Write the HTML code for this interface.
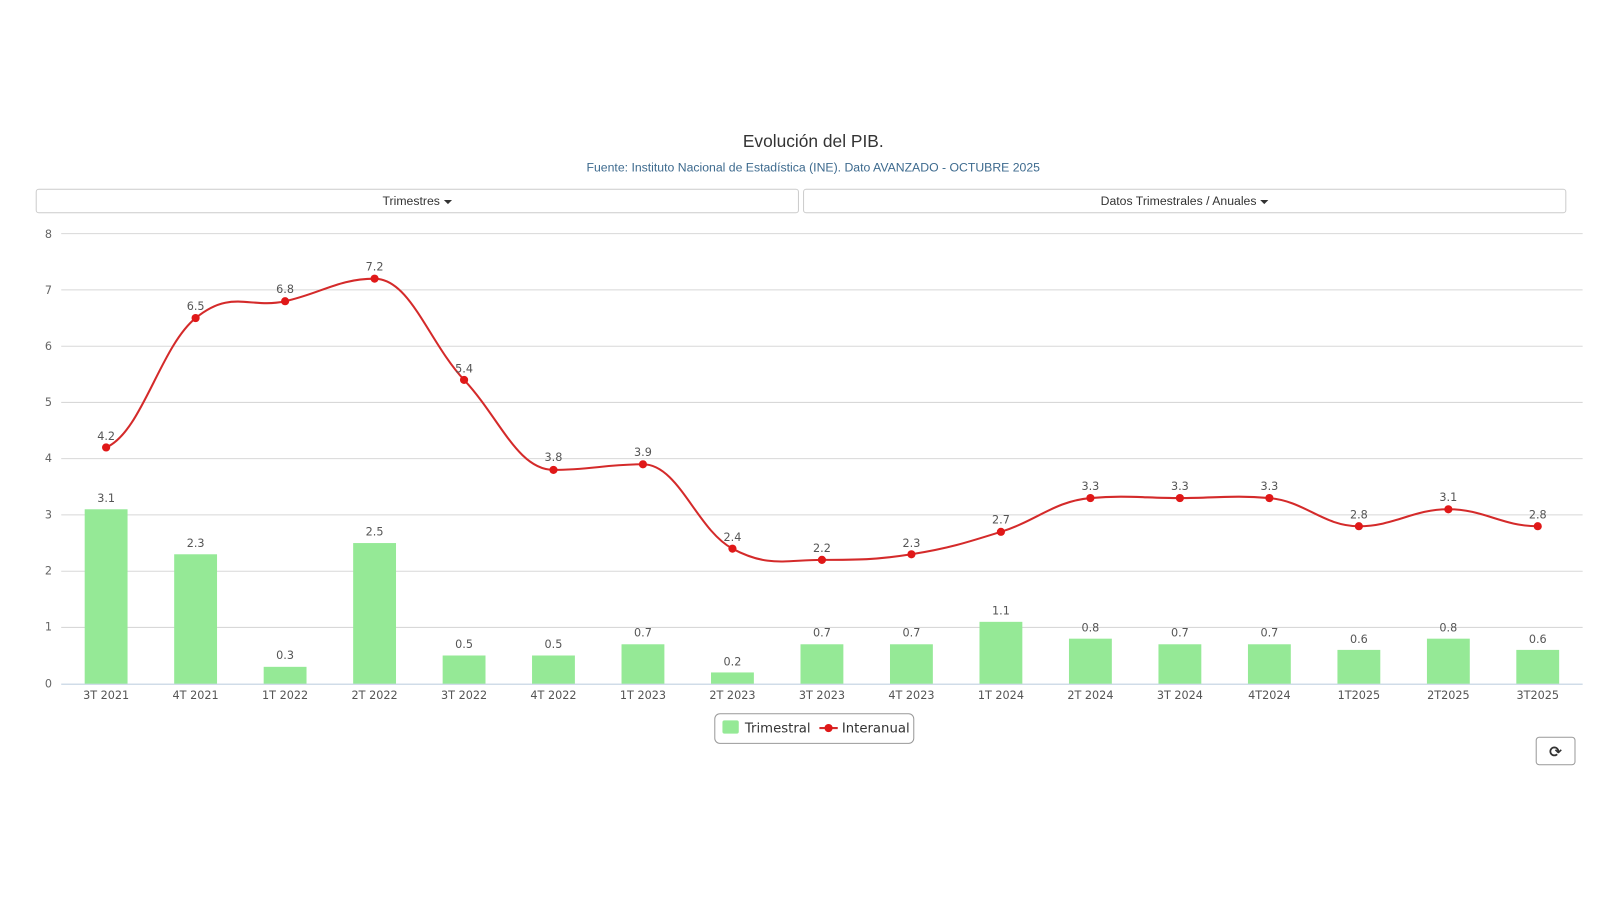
<!DOCTYPE html>
<html><head><meta charset="utf-8"><style>
html,body{margin:0;padding:0;background:#fff;width:1600px;height:900px;overflow:hidden;font-family:"Liberation Sans",sans-serif}
#wrap{position:absolute;left:0;top:0;width:1568px;height:882px;transform:scale(1.0204);transform-origin:0 0}
.btn{position:absolute;top:185px;height:22px;border:1px solid #ccc;border-radius:3px;font-size:12px;color:#333;text-align:center;line-height:22px;background:#fff}
.caret{display:inline-block;width:0;height:0;border-left:4px solid transparent;border-right:4px solid transparent;border-top:4px solid #333;vertical-align:middle;margin-left:4px}
</style></head><body><div id="wrap">
<div style="position:absolute;top:129px;left:0;width:1594px;text-align:center;font-size:17px;color:#333">Evolución del PIB.</div>
<div style="position:absolute;top:157px;left:0;width:1594px;text-align:center;font-size:12px;color:#3d6a8e">Fuente: Instituto Nacional de Estadística (INE). Dato AVANZADO - OCTUBRE 2025</div>
<div class="btn" style="left:35px;width:746px">Trimestres<span class="caret"></span></div>
<div class="btn" style="left:787px;width:746px">Datos Trimestrales / Anuales<span class="caret"></span></div>
<svg width="1600" height="900" style="position:absolute;left:0;top:0" font-family="DejaVu Sans, sans-serif">
<g stroke="#d8d8d8" stroke-width="1">
<line x1="60" x2="1551" y1="229" y2="229"/><line x1="60" x2="1551" y1="284.1" y2="284.1"/><line x1="60" x2="1551" y1="339.3" y2="339.3"/><line x1="60" x2="1551" y1="394.4" y2="394.4"/><line x1="60" x2="1551" y1="449.5" y2="449.5"/><line x1="60" x2="1551" y1="504.6" y2="504.6"/><line x1="60" x2="1551" y1="559.8" y2="559.8"/><line x1="60" x2="1551" y1="614.9" y2="614.9"/>
<line x1="60" x2="1551" y1="670.5" y2="670.5" stroke="#c0d0e0"/>
</g>
<g font-size="11" fill="#666" text-anchor="end">
<text x="51" y="233">8</text><text x="51" y="288">7</text><text x="51" y="343">6</text><text x="51" y="398">5</text><text x="51" y="453">4</text><text x="51" y="508">3</text><text x="51" y="563">2</text><text x="51" y="618">1</text><text x="51" y="674">0</text>
</g>
<g fill="#95e996">
<rect x="83" y="499.1" width="42" height="170.9"/><rect x="170.7" y="543.2" width="42" height="126.8"/><rect x="258.4" y="653.5" width="42" height="16.5"/><rect x="346.1" y="532.2" width="42" height="137.8"/><rect x="433.8" y="642.4" width="42" height="27.6"/><rect x="521.4" y="642.4" width="42" height="27.6"/><rect x="609.1" y="631.4" width="42" height="38.6"/><rect x="696.8" y="659" width="42" height="11"/><rect x="784.5" y="631.4" width="42" height="38.6"/><rect x="872.2" y="631.4" width="42" height="38.6"/><rect x="959.9" y="609.4" width="42" height="60.6"/><rect x="1047.6" y="625.9" width="42" height="44.1"/><rect x="1135.3" y="631.4" width="42" height="38.6"/><rect x="1223" y="631.4" width="42" height="38.6"/><rect x="1310.7" y="636.9" width="42" height="33.1"/><rect x="1398.4" y="625.9" width="42" height="44.1"/><rect x="1486" y="636.9" width="42" height="33.1"/>
</g>
<g font-size="11" fill="#555" text-anchor="middle">
<text x="104" y="492">3.1</text><text x="191.7" y="536">2.3</text><text x="279.4" y="646">0.3</text><text x="367.1" y="525">2.5</text><text x="454.8" y="635">0.5</text><text x="542.4" y="635">0.5</text><text x="630.1" y="624">0.7</text><text x="717.8" y="652">0.2</text><text x="805.5" y="624">0.7</text><text x="893.2" y="624">0.7</text><text x="980.9" y="602">1.1</text><text x="1068.6" y="619">0.8</text><text x="1156.3" y="624">0.7</text><text x="1244" y="624">0.7</text><text x="1331.7" y="630">0.6</text><text x="1419.4" y="619">0.8</text><text x="1507" y="630">0.6</text>
</g>
<path fill="none" stroke="#d42a2a" stroke-width="2" d="M104,438.5 C139,423.5 156.7,340.4 191.7,311.7 C226.7,283 244.4,302.9 279.4,295.2 C314.4,287.5 332.1,273.1 367.1,273.1 C402.1,273.1 419.8,334.8 454.8,372.3 C489.8,409.8 507.4,460.5 542.4,460.5 C577.4,460.5 595.1,455 630.1,455 C665.1,455 682.8,519 717.8,537.7 C752.8,556.4 770.5,548.7 805.5,548.7 C840.5,548.7 858.2,548.7 893.2,543.2 C928.2,537.7 945.9,532.2 980.9,521.2 C1015.9,510.2 1033.6,491.1 1068.6,488.1 C1103.6,485.1 1121.3,488.1 1156.3,488.1 C1191.3,488.1 1209,485.1 1244,488.1 C1279,491.1 1296.7,515.7 1331.7,515.7 C1366.7,515.7 1384.4,499.1 1419.4,499.1 C1454.4,499.1 1472,515.7 1507,515.7"/>
<g fill="#e01818">
<circle cx="104" cy="438.5" r="4"/><circle cx="191.7" cy="311.7" r="4"/><circle cx="279.4" cy="295.2" r="4"/><circle cx="367.1" cy="273.1" r="4"/><circle cx="454.8" cy="372.3" r="4"/><circle cx="542.4" cy="460.5" r="4"/><circle cx="630.1" cy="455" r="4"/><circle cx="717.8" cy="537.7" r="4"/><circle cx="805.5" cy="548.7" r="4"/><circle cx="893.2" cy="543.2" r="4"/><circle cx="980.9" cy="521.2" r="4"/><circle cx="1068.6" cy="488.1" r="4"/><circle cx="1156.3" cy="488.1" r="4"/><circle cx="1244" cy="488.1" r="4"/><circle cx="1331.7" cy="515.7" r="4"/><circle cx="1419.4" cy="499.1" r="4"/><circle cx="1507" cy="515.7" r="4"/>
</g>
<g font-size="11" fill="#555" text-anchor="middle">
<text x="104" y="431">4.2</text><text x="191.7" y="304">6.5</text><text x="279.4" y="287">6.8</text><text x="367.1" y="265">7.2</text><text x="454.8" y="365">5.4</text><text x="542.4" y="452">3.8</text><text x="630.1" y="447">3.9</text><text x="717.8" y="530">2.4</text><text x="805.5" y="541">2.2</text><text x="893.2" y="536">2.3</text><text x="980.9" y="513">2.7</text><text x="1068.6" y="480">3.3</text><text x="1156.3" y="480">3.3</text><text x="1244" y="480">3.3</text><text x="1331.7" y="508">2.8</text><text x="1419.4" y="491">3.1</text><text x="1507" y="508">2.8</text>
</g>
<g font-size="11" fill="#555" text-anchor="middle">
<text x="104" y="685">3T 2021</text><text x="191.7" y="685">4T 2021</text><text x="279.4" y="685">1T 2022</text><text x="367.1" y="685">2T 2022</text><text x="454.8" y="685">3T 2022</text><text x="542.4" y="685">4T 2022</text><text x="630.1" y="685">1T 2023</text><text x="717.8" y="685">2T 2023</text><text x="805.5" y="685">3T 2023</text><text x="893.2" y="685">4T 2023</text><text x="980.9" y="685">1T 2024</text><text x="1068.6" y="685">2T 2024</text><text x="1156.3" y="685">3T 2024</text><text x="1244" y="685">4T2024</text><text x="1331.7" y="685">1T2025</text><text x="1419.4" y="685">2T2025</text><text x="1507" y="685">3T2025</text>
</g>
<rect x="700.5" y="699.5" width="195" height="29" rx="5" fill="#fff" stroke="#999"/>
<rect x="708" y="706" width="16" height="13" rx="2" fill="#95e996"/>
<text x="730" y="718" font-size="13" fill="#333">Trimestral</text>
<line x1="803" x2="821" y1="713.5" y2="713.5" stroke="#d42a2a" stroke-width="2"/>
<circle cx="812" cy="713.5" r="4" fill="#e01818"/>
<text x="825" y="718" font-size="13" fill="#333">Interanual</text>
<rect x="1505.5" y="722.5" width="38" height="27" rx="3" fill="#fff" stroke="#999"/>
<text x="1524.5" y="742" font-size="15" font-weight="bold" fill="#333" text-anchor="middle">⟳</text>
</svg>
</div></body></html>
